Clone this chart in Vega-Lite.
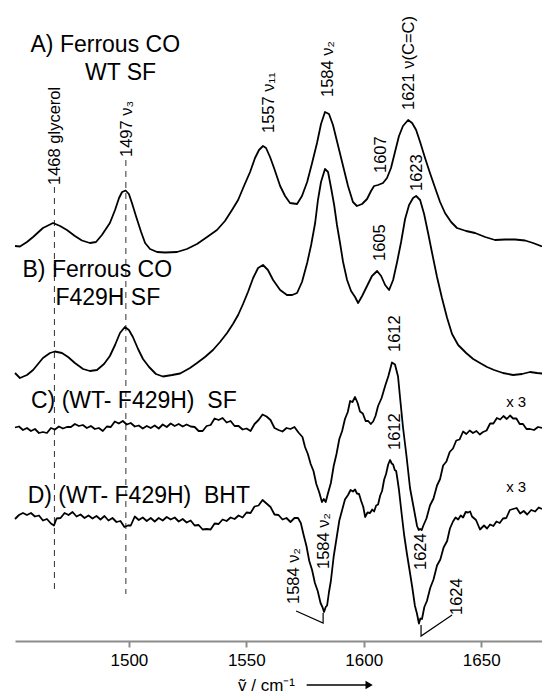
{
"$schema":"https://vega.github.io/schema/vega-lite/v6.json",
"width":527,"height":641,
"autosize":{"type":"none"},
"padding":{"left":15,"right":0,"top":0,"bottom":52},
"background":"white",
"config":{"view":{"stroke":null},"font":"Liberation Sans"},
"datasets":{
"guides":[{"w":1468.3,"v":454,"v2":51},{"w":1498.7,"v":481,"v2":47}],
"leaders":[{"g":"a","o":1,"w":1571.2,"v":30},{"g":"a","o":2,"w":1582.7,"v":18},{"g":"a","o":3,"w":1582.7,"v":28},{"g":"b","o":1,"w":1637.6,"v":26},{"g":"b","o":2,"w":1624.4,"v":5},{"g":"b","o":3,"w":1624.4,"v":16}],
"arrow":[{"w":1575.7,"w2":1601.5,"v":-44}],
"arrowhead":[{"w":1602.3,"v":-44}],
"peaks":[
{"label":"1468 glycerol","w":1468.7,"v":456},
{"label":"1497 ν₃","w":1499.0,"v":484},
{"label":"1557 ν₁₁","w":1559.5,"v":508},
{"label":"1584 ν₂","w":1584.6,"v":544},
{"label":"1607","w":1607.2,"v":468},
{"label":"1621 ν(C=C)","w":1619.3,"v":531},
{"label":"1623","w":1622.5,"v":450},
{"label":"1605","w":1607.1,"v":380},
{"label":"1612","w":1613.3,"v":289},
{"label":"1612","w":1613.1,"v":191},
{"label":"1584 ν₂","w":1582.9,"v":72},
{"label":"1584 ν₂","w":1570.3,"v":37},
{"label":"1624","w":1624.4,"v":71},
{"label":"1624","w":1639.9,"v":26}],
"titles":[
{"label":"A) Ferrous CO","w":1458.1,"v":589},
{"label":"WT SF","w":1481.3,"v":561},
{"label":"B) Ferrous CO","w":1454.7,"v":364},
{"label":"F429H SF","w":1468.7,"v":336},
{"label":"C) (WT- F429H)\u00a0 SF","w":1458.3,"v":233},
{"label":"D) (WT- F429H)\u00a0 BHT","w":1456.9,"v":138}],
"scales":[{"label":"x 3","w":1664.9,"v":239},{"label":"x 3","w":1664.9,"v":154}],
"spectra":[
{"trace":"A","w":1451.5,"v":395},{"trace":"A","w":1453.6,"v":394.5},{"trace":"A","w":1456.6,"v":399},{"trace":"A","w":1459.2,"v":404},{"trace":"A","w":1463.4,"v":413},{"trace":"A","w":1467.7,"v":418},{"trace":"A","w":1470.7,"v":415},{"trace":"A","w":1473.6,"v":411},{"trace":"A","w":1477.0,"v":405},{"trace":"A","w":1480.0,"v":400.5},{"trace":"A","w":1483.4,"v":398},{"trace":"A","w":1486.0,"v":399},{"trace":"A","w":1488.5,"v":406},{"trace":"A","w":1491.9,"v":418},{"trace":"A","w":1494.1,"v":431},{"trace":"A","w":1495.8,"v":443},{"trace":"A","w":1497.1,"v":449},{"trace":"A","w":1498.6,"v":450.5},{"trace":"A","w":1500.0,"v":447},{"trace":"A","w":1501.3,"v":438},{"trace":"A","w":1503.0,"v":425},{"trace":"A","w":1505.2,"v":409},{"trace":"A","w":1506.9,"v":398},{"trace":"A","w":1509.0,"v":392},{"trace":"A","w":1512.0,"v":389},{"trace":"A","w":1515.4,"v":388.5},{"trace":"A","w":1520.5,"v":389},{"trace":"A","w":1524.7,"v":392},{"trace":"A","w":1529.0,"v":397},{"trace":"A","w":1533.3,"v":404},{"trace":"A","w":1537.5,"v":411},{"trace":"A","w":1540.9,"v":420},{"trace":"A","w":1543.9,"v":431},{"trace":"A","w":1546.5,"v":441},{"trace":"A","w":1549.0,"v":455},{"trace":"A","w":1551.6,"v":469},{"trace":"A","w":1553.7,"v":483},{"trace":"A","w":1555.4,"v":491},{"trace":"A","w":1557.1,"v":495},{"trace":"A","w":1558.4,"v":493},{"trace":"A","w":1560.1,"v":484},{"trace":"A","w":1561.8,"v":473},{"trace":"A","w":1564.4,"v":455},{"trace":"A","w":1566.5,"v":445},{"trace":"A","w":1568.6,"v":438},{"trace":"A","w":1571.6,"v":437},{"trace":"A","w":1573.7,"v":445},{"trace":"A","w":1575.9,"v":459},{"trace":"A","w":1578.0,"v":478},{"trace":"A","w":1580.1,"v":498},{"trace":"A","w":1581.8,"v":517},{"trace":"A","w":1583.5,"v":529},{"trace":"A","w":1585.2,"v":527},{"trace":"A","w":1586.9,"v":516},{"trace":"A","w":1589.0,"v":496},{"trace":"A","w":1591.2,"v":475},{"trace":"A","w":1593.3,"v":455},{"trace":"A","w":1595.4,"v":439},{"trace":"A","w":1597.1,"v":435},{"trace":"A","w":1599.3,"v":437},{"trace":"A","w":1601.4,"v":442},{"trace":"A","w":1603.1,"v":450},{"trace":"A","w":1604.4,"v":455},{"trace":"A","w":1606.1,"v":456},{"trace":"A","w":1608.2,"v":458},{"trace":"A","w":1609.9,"v":463},{"trace":"A","w":1611.6,"v":473},{"trace":"A","w":1613.3,"v":489},{"trace":"A","w":1615.0,"v":505},{"trace":"A","w":1616.7,"v":515},{"trace":"A","w":1618.9,"v":521},{"trace":"A","w":1620.6,"v":518},{"trace":"A","w":1622.3,"v":511},{"trace":"A","w":1624.0,"v":499},{"trace":"A","w":1626.1,"v":483},{"trace":"A","w":1628.2,"v":468},{"trace":"A","w":1630.4,"v":453},{"trace":"A","w":1632.5,"v":439},{"trace":"A","w":1634.6,"v":428},{"trace":"A","w":1637.2,"v":419},{"trace":"A","w":1639.7,"v":413},{"trace":"A","w":1643.6,"v":410},{"trace":"A","w":1647.4,"v":408},{"trace":"A","w":1651.7,"v":404},{"trace":"A","w":1655.9,"v":401},{"trace":"A","w":1660.2,"v":401.5},{"trace":"A","w":1664.4,"v":401.5},{"trace":"A","w":1668.7,"v":400.5},{"trace":"A","w":1672.1,"v":398},{"trace":"A","w":1675.9,"v":394.5},
{"trace":"B","w":1451.5,"v":268},{"trace":"B","w":1453.6,"v":263},{"trace":"B","w":1456.6,"v":266},{"trace":"B","w":1459.2,"v":271},{"trace":"B","w":1463.4,"v":283},{"trace":"B","w":1466.4,"v":288},{"trace":"B","w":1468.5,"v":289.5},{"trace":"B","w":1471.5,"v":288},{"trace":"B","w":1474.1,"v":284},{"trace":"B","w":1477.0,"v":278},{"trace":"B","w":1480.5,"v":272},{"trace":"B","w":1483.4,"v":270},{"trace":"B","w":1486.4,"v":271},{"trace":"B","w":1489.4,"v":277},{"trace":"B","w":1491.9,"v":285},{"trace":"B","w":1494.1,"v":296},{"trace":"B","w":1496.2,"v":308},{"trace":"B","w":1498.3,"v":314},{"trace":"B","w":1500.0,"v":311},{"trace":"B","w":1501.7,"v":304},{"trace":"B","w":1503.9,"v":292},{"trace":"B","w":1506.0,"v":282},{"trace":"B","w":1508.6,"v":274},{"trace":"B","w":1511.5,"v":267},{"trace":"B","w":1514.5,"v":264.5},{"trace":"B","w":1518.4,"v":266},{"trace":"B","w":1521.8,"v":267.5},{"trace":"B","w":1526.0,"v":273},{"trace":"B","w":1529.0,"v":278},{"trace":"B","w":1532.4,"v":284},{"trace":"B","w":1535.8,"v":291},{"trace":"B","w":1538.8,"v":299},{"trace":"B","w":1541.8,"v":308},{"trace":"B","w":1544.3,"v":317},{"trace":"B","w":1546.5,"v":326},{"trace":"B","w":1548.6,"v":337},{"trace":"B","w":1550.7,"v":349},{"trace":"B","w":1552.9,"v":363},{"trace":"B","w":1555.0,"v":373},{"trace":"B","w":1557.1,"v":376},{"trace":"B","w":1559.2,"v":371},{"trace":"B","w":1561.4,"v":361},{"trace":"B","w":1564.4,"v":351},{"trace":"B","w":1567.3,"v":346},{"trace":"B","w":1569.5,"v":346},{"trace":"B","w":1571.6,"v":348},{"trace":"B","w":1573.7,"v":359},{"trace":"B","w":1575.9,"v":378},{"trace":"B","w":1577.6,"v":396},{"trace":"B","w":1579.3,"v":418},{"trace":"B","w":1580.5,"v":441},{"trace":"B","w":1581.8,"v":459},{"trace":"B","w":1583.5,"v":472},{"trace":"B","w":1584.8,"v":469},{"trace":"B","w":1586.1,"v":453},{"trace":"B","w":1587.4,"v":436},{"trace":"B","w":1588.6,"v":416},{"trace":"B","w":1589.9,"v":398},{"trace":"B","w":1591.2,"v":379},{"trace":"B","w":1592.9,"v":361},{"trace":"B","w":1594.6,"v":350},{"trace":"B","w":1596.3,"v":344},{"trace":"B","w":1597.6,"v":338},{"trace":"B","w":1599.3,"v":345},{"trace":"B","w":1601.4,"v":355},{"trace":"B","w":1603.5,"v":365},{"trace":"B","w":1605.7,"v":370},{"trace":"B","w":1607.4,"v":365},{"trace":"B","w":1609.1,"v":356},{"trace":"B","w":1610.8,"v":351},{"trace":"B","w":1612.5,"v":361},{"trace":"B","w":1614.2,"v":379},{"trace":"B","w":1615.9,"v":399},{"trace":"B","w":1617.6,"v":422},{"trace":"B","w":1619.3,"v":436},{"trace":"B","w":1621.0,"v":443},{"trace":"B","w":1622.3,"v":445},{"trace":"B","w":1624.0,"v":441},{"trace":"B","w":1625.7,"v":427},{"trace":"B","w":1627.4,"v":408},{"trace":"B","w":1629.1,"v":388},{"trace":"B","w":1631.2,"v":364},{"trace":"B","w":1633.3,"v":343},{"trace":"B","w":1635.5,"v":323},{"trace":"B","w":1637.6,"v":307},{"trace":"B","w":1640.2,"v":296},{"trace":"B","w":1643.6,"v":288},{"trace":"B","w":1646.6,"v":282},{"trace":"B","w":1649.5,"v":278},{"trace":"B","w":1652.5,"v":274},{"trace":"B","w":1655.5,"v":271},{"trace":"B","w":1659.3,"v":268},{"trace":"B","w":1663.6,"v":266},{"trace":"B","w":1667.4,"v":267},{"trace":"B","w":1670.8,"v":269},{"trace":"B","w":1673.8,"v":268},{"trace":"B","w":1675.9,"v":267.5},
{"trace":"C","w":1451.5,"v":213.5},{"trace":"C","w":1453.2,"v":214.5},{"trace":"C","w":1454.9,"v":211},{"trace":"C","w":1456.6,"v":213},{"trace":"C","w":1458.3,"v":210},{"trace":"C","w":1460.0,"v":212},{"trace":"C","w":1461.7,"v":208},{"trace":"C","w":1463.4,"v":209},{"trace":"C","w":1465.1,"v":208},{"trace":"C","w":1466.8,"v":213},{"trace":"C","w":1468.5,"v":211.5},{"trace":"C","w":1470.2,"v":214.5},{"trace":"C","w":1471.9,"v":212.5},{"trace":"C","w":1473.6,"v":214},{"trace":"C","w":1475.3,"v":214},{"trace":"C","w":1477.0,"v":217},{"trace":"C","w":1478.7,"v":215},{"trace":"C","w":1480.4,"v":216},{"trace":"C","w":1482.1,"v":213},{"trace":"C","w":1483.8,"v":215},{"trace":"C","w":1485.5,"v":212},{"trace":"C","w":1487.2,"v":213},{"trace":"C","w":1488.9,"v":210},{"trace":"C","w":1490.6,"v":214.5},{"trace":"C","w":1492.3,"v":214},{"trace":"C","w":1494.0,"v":219.5},{"trace":"C","w":1495.7,"v":217.5},{"trace":"C","w":1497.4,"v":220},{"trace":"C","w":1499.1,"v":216.5},{"trace":"C","w":1500.8,"v":218},{"trace":"C","w":1502.5,"v":214.5},{"trace":"C","w":1504.2,"v":215.5},{"trace":"C","w":1505.9,"v":212.5},{"trace":"C","w":1507.6,"v":215},{"trace":"C","w":1509.3,"v":213},{"trace":"C","w":1511.0,"v":215.5},{"trace":"C","w":1512.7,"v":212.5},{"trace":"C","w":1514.4,"v":216.5},{"trace":"C","w":1516.1,"v":214},{"trace":"C","w":1517.8,"v":217.5},{"trace":"C","w":1519.5,"v":215},{"trace":"C","w":1521.2,"v":217},{"trace":"C","w":1522.9,"v":214.5},{"trace":"C","w":1524.6,"v":216.5},{"trace":"C","w":1526.3,"v":214.5},{"trace":"C","w":1528.0,"v":214},{"trace":"C","w":1529.7,"v":210},{"trace":"C","w":1531.4,"v":210},{"trace":"C","w":1533.1,"v":215},{"trace":"C","w":1534.8,"v":216},{"trace":"C","w":1536.5,"v":222.5},{"trace":"C","w":1538.2,"v":221},{"trace":"C","w":1539.9,"v":223},{"trace":"C","w":1541.6,"v":218.5},{"trace":"C","w":1543.3,"v":220},{"trace":"C","w":1545.0,"v":215},{"trace":"C","w":1546.7,"v":215},{"trace":"C","w":1548.4,"v":211.5},{"trace":"C","w":1550.1,"v":212.5},{"trace":"C","w":1551.8,"v":210},{"trace":"C","w":1553.5,"v":217},{"trace":"C","w":1555.2,"v":221},{"trace":"C","w":1556.9,"v":226.5},{"trace":"C","w":1558.6,"v":224.5},{"trace":"C","w":1560.3,"v":221},{"trace":"C","w":1562.0,"v":213},{"trace":"C","w":1563.7,"v":211},{"trace":"C","w":1565.4,"v":209.5},{"trace":"C","w":1567.1,"v":213},{"trace":"C","w":1568.8,"v":212},{"trace":"C","w":1570.5,"v":214},{"trace":"C","w":1572.2,"v":208.5},{"trace":"C","w":1573.9,"v":204},{"trace":"C","w":1575.0,"v":194},{"trace":"C","w":1576.2,"v":187},{"trace":"C","w":1577.4,"v":177},{"trace":"C","w":1578.6,"v":170},{"trace":"C","w":1579.8,"v":157},{"trace":"C","w":1581.0,"v":149},{"trace":"C","w":1582.2,"v":139},{"trace":"C","w":1583.0,"v":142},{"trace":"C","w":1583.8,"v":139},{"trace":"C","w":1584.8,"v":148},{"trace":"C","w":1586.0,"v":158},{"trace":"C","w":1587.2,"v":175},{"trace":"C","w":1588.4,"v":187},{"trace":"C","w":1589.6,"v":202},{"trace":"C","w":1590.8,"v":210},{"trace":"C","w":1592.0,"v":222},{"trace":"C","w":1593.2,"v":229},{"trace":"C","w":1594.2,"v":240},{"trace":"C","w":1595.2,"v":239},{"trace":"C","w":1596.3,"v":244},{"trace":"C","w":1597.4,"v":238},{"trace":"C","w":1598.4,"v":229.5},{"trace":"C","w":1599.6,"v":227.5},{"trace":"C","w":1600.8,"v":220},{"trace":"C","w":1601.9,"v":220},{"trace":"C","w":1603.0,"v":217},{"trace":"C","w":1604.0,"v":219.5},{"trace":"C","w":1605.0,"v":225},{"trace":"C","w":1606.1,"v":235},{"trace":"C","w":1607.6,"v":243},{"trace":"C","w":1609.1,"v":255},{"trace":"C","w":1610.5,"v":265},{"trace":"C","w":1612.0,"v":278.5},{"trace":"C","w":1613.3,"v":276.5},{"trace":"C","w":1614.6,"v":264.5},{"trace":"C","w":1615.6,"v":240},{"trace":"C","w":1616.7,"v":214},{"trace":"C","w":1618.2,"v":185},{"trace":"C","w":1619.7,"v":153},{"trace":"C","w":1621.2,"v":134},{"trace":"C","w":1622.7,"v":115},{"trace":"C","w":1623.4,"v":111},{"trace":"C","w":1624.0,"v":112},{"trace":"C","w":1624.7,"v":111},{"trace":"C","w":1625.3,"v":115},{"trace":"C","w":1626.7,"v":122.5},{"trace":"C","w":1628.2,"v":135.5},{"trace":"C","w":1629.7,"v":142.5},{"trace":"C","w":1631.2,"v":155.5},{"trace":"C","w":1632.5,"v":162},{"trace":"C","w":1633.8,"v":175.5},{"trace":"C","w":1635.2,"v":179.5},{"trace":"C","w":1636.6,"v":189},{"trace":"C","w":1638.0,"v":192.5},{"trace":"C","w":1639.4,"v":200.5},{"trace":"C","w":1640.8,"v":201.5},{"trace":"C","w":1642.3,"v":209.5},{"trace":"C","w":1643.7,"v":207},{"trace":"C","w":1645.1,"v":210.5},{"trace":"C","w":1646.5,"v":208},{"trace":"C","w":1648.0,"v":210},{"trace":"C","w":1649.4,"v":206.5},{"trace":"C","w":1650.8,"v":209},{"trace":"C","w":1652.3,"v":210.5},{"trace":"C","w":1653.8,"v":217.5},{"trace":"C","w":1655.2,"v":217.5},{"trace":"C","w":1656.7,"v":223},{"trace":"C","w":1658.1,"v":221.5},{"trace":"C","w":1659.5,"v":225},{"trace":"C","w":1660.9,"v":222},{"trace":"C","w":1662.3,"v":225.5},{"trace":"C","w":1663.6,"v":222.5},{"trace":"C","w":1665.0,"v":222.5},{"trace":"C","w":1666.4,"v":217},{"trace":"C","w":1667.8,"v":217},{"trace":"C","w":1669.3,"v":212},{"trace":"C","w":1670.8,"v":212},{"trace":"C","w":1672.5,"v":211},{"trace":"C","w":1674.2,"v":214},{"trace":"C","w":1675.9,"v":213},
{"trace":"D","w":1451.5,"v":122},{"trace":"D","w":1453.2,"v":126},{"trace":"D","w":1454.9,"v":128},{"trace":"D","w":1456.6,"v":126},{"trace":"D","w":1458.3,"v":128},{"trace":"D","w":1460.0,"v":124.5},{"trace":"D","w":1461.7,"v":125.5},{"trace":"D","w":1463.4,"v":120.5},{"trace":"D","w":1465.1,"v":122},{"trace":"D","w":1466.8,"v":117.5},{"trace":"D","w":1468.1,"v":115.5},{"trace":"D","w":1469.2,"v":122.5},{"trace":"D","w":1470.9,"v":123},{"trace":"D","w":1472.6,"v":128},{"trace":"D","w":1474.3,"v":126},{"trace":"D","w":1476.0,"v":129},{"trace":"D","w":1477.7,"v":124.5},{"trace":"D","w":1479.4,"v":126.5},{"trace":"D","w":1481.1,"v":123},{"trace":"D","w":1482.8,"v":125.5},{"trace":"D","w":1484.5,"v":122.5},{"trace":"D","w":1486.2,"v":125},{"trace":"D","w":1487.9,"v":121.5},{"trace":"D","w":1489.6,"v":125},{"trace":"D","w":1491.3,"v":120.5},{"trace":"D","w":1493.0,"v":123},{"trace":"D","w":1494.7,"v":119},{"trace":"D","w":1496.4,"v":120},{"trace":"D","w":1498.1,"v":114},{"trace":"D","w":1499.6,"v":115.5},{"trace":"D","w":1500.8,"v":115.5},{"trace":"D","w":1502.5,"v":124.5},{"trace":"D","w":1504.2,"v":121},{"trace":"D","w":1505.9,"v":123.5},{"trace":"D","w":1507.6,"v":120},{"trace":"D","w":1509.3,"v":123},{"trace":"D","w":1511.0,"v":119.5},{"trace":"D","w":1512.7,"v":123},{"trace":"D","w":1514.4,"v":120.5},{"trace":"D","w":1516.1,"v":124},{"trace":"D","w":1517.8,"v":121.5},{"trace":"D","w":1519.5,"v":123.5},{"trace":"D","w":1521.2,"v":119.5},{"trace":"D","w":1522.9,"v":122},{"trace":"D","w":1524.6,"v":118.5},{"trace":"D","w":1526.3,"v":120.5},{"trace":"D","w":1528.0,"v":115.5},{"trace":"D","w":1529.7,"v":116},{"trace":"D","w":1531.4,"v":111.5},{"trace":"D","w":1533.1,"v":112},{"trace":"D","w":1534.8,"v":111.5},{"trace":"D","w":1536.5,"v":117.5},{"trace":"D","w":1538.2,"v":117},{"trace":"D","w":1539.9,"v":121.5},{"trace":"D","w":1541.6,"v":120},{"trace":"D","w":1543.3,"v":123.5},{"trace":"D","w":1545.0,"v":122},{"trace":"D","w":1546.7,"v":125.5},{"trace":"D","w":1548.4,"v":123.5},{"trace":"D","w":1550.1,"v":128.5},{"trace":"D","w":1551.8,"v":128},{"trace":"D","w":1553.5,"v":134.5},{"trace":"D","w":1555.2,"v":135.5},{"trace":"D","w":1556.9,"v":141},{"trace":"D","w":1558.6,"v":137.5},{"trace":"D","w":1560.3,"v":134},{"trace":"D","w":1562.0,"v":126.5},{"trace":"D","w":1563.7,"v":126},{"trace":"D","w":1565.4,"v":121.5},{"trace":"D","w":1567.1,"v":123},{"trace":"D","w":1568.8,"v":119},{"trace":"D","w":1570.5,"v":123},{"trace":"D","w":1572.0,"v":123},{"trace":"D","w":1573.2,"v":118},{"trace":"D","w":1574.4,"v":106},{"trace":"D","w":1575.6,"v":95},{"trace":"D","w":1576.8,"v":80},{"trace":"D","w":1578.0,"v":71},{"trace":"D","w":1579.2,"v":58},{"trace":"D","w":1580.4,"v":50},{"trace":"D","w":1581.6,"v":38},{"trace":"D","w":1582.4,"v":34},{"trace":"D","w":1583.1,"v":29},{"trace":"D","w":1583.8,"v":34},{"trace":"D","w":1584.4,"v":35.5},{"trace":"D","w":1585.2,"v":49},{"trace":"D","w":1586.0,"v":60},{"trace":"D","w":1587.2,"v":84.5},{"trace":"D","w":1588.4,"v":102.5},{"trace":"D","w":1589.6,"v":120.5},{"trace":"D","w":1590.8,"v":131},{"trace":"D","w":1592.0,"v":141.5},{"trace":"D","w":1593.3,"v":146},{"trace":"D","w":1594.4,"v":151},{"trace":"D","w":1595.4,"v":149.5},{"trace":"D","w":1596.3,"v":151.5},{"trace":"D","w":1597.1,"v":147.5},{"trace":"D","w":1598.0,"v":147},{"trace":"D","w":1598.9,"v":140},{"trace":"D","w":1599.8,"v":134},{"trace":"D","w":1600.6,"v":124},{"trace":"D","w":1601.6,"v":128.5},{"trace":"D","w":1602.7,"v":128},{"trace":"D","w":1603.6,"v":131.5},{"trace":"D","w":1604.4,"v":129.5},{"trace":"D","w":1605.3,"v":135.5},{"trace":"D","w":1606.1,"v":136.5},{"trace":"D","w":1607.0,"v":145.5},{"trace":"D","w":1607.8,"v":150},{"trace":"D","w":1608.7,"v":161.5},{"trace":"D","w":1609.5,"v":167},{"trace":"D","w":1610.4,"v":176.5},{"trace":"D","w":1611.2,"v":181},{"trace":"D","w":1611.9,"v":177.5},{"trace":"D","w":1612.5,"v":176.5},{"trace":"D","w":1613.2,"v":171},{"trace":"D","w":1613.8,"v":170},{"trace":"D","w":1614.4,"v":161},{"trace":"D","w":1615.0,"v":151},{"trace":"D","w":1616.1,"v":128},{"trace":"D","w":1617.2,"v":106},{"trace":"D","w":1618.4,"v":87},{"trace":"D","w":1619.7,"v":68},{"trace":"D","w":1620.7,"v":53},{"trace":"D","w":1621.8,"v":35},{"trace":"D","w":1622.6,"v":28},{"trace":"D","w":1623.5,"v":17.5},{"trace":"D","w":1624.1,"v":22.5},{"trace":"D","w":1624.8,"v":22},{"trace":"D","w":1625.8,"v":34},{"trace":"D","w":1626.9,"v":40},{"trace":"D","w":1628.3,"v":53},{"trace":"D","w":1629.7,"v":61.5},{"trace":"D","w":1631.2,"v":75.5},{"trace":"D","w":1632.6,"v":81.5},{"trace":"D","w":1634.0,"v":93.5},{"trace":"D","w":1635.5,"v":100},{"trace":"D","w":1636.7,"v":112.5},{"trace":"D","w":1638.0,"v":119.5},{"trace":"D","w":1639.1,"v":123.5},{"trace":"D","w":1640.2,"v":121.5},{"trace":"D","w":1641.3,"v":125.5},{"trace":"D","w":1642.3,"v":123.5},{"trace":"D","w":1643.4,"v":129},{"trace":"D","w":1644.4,"v":128.5},{"trace":"D","w":1645.3,"v":129.5},{"trace":"D","w":1646.1,"v":124.5},{"trace":"D","w":1647.8,"v":121},{"trace":"D","w":1649.5,"v":111.5},{"trace":"D","w":1651.2,"v":115.5},{"trace":"D","w":1652.5,"v":112.5},{"trace":"D","w":1653.8,"v":116.5},{"trace":"D","w":1655.2,"v":115},{"trace":"D","w":1656.5,"v":119.5},{"trace":"D","w":1657.9,"v":118},{"trace":"D","w":1659.3,"v":122.5},{"trace":"D","w":1660.7,"v":123},{"trace":"D","w":1662.2,"v":131},{"trace":"D","w":1663.6,"v":132},{"trace":"D","w":1665.1,"v":133},{"trace":"D","w":1666.6,"v":127.5},{"trace":"D","w":1668.1,"v":130},{"trace":"D","w":1669.6,"v":126.5},{"trace":"D","w":1671.3,"v":131},{"trace":"D","w":1673.0,"v":129.5},{"trace":"D","w":1674.5,"v":133.5},{"trace":"D","w":1675.9,"v":132}
]},
"encoding":{
"x":{"field":"w","type":"quantitative","scale":{"domain":[1451.5,1675.9],"nice":false,"zero":false},
"axis":{"values":[1500,1550,1600,1650],"format":"d","grid":false,"domainColor":"#8c8c8c","domainWidth":2,"tickColor":"#8c8c8c","tickWidth":2,"tickSize":6,"labelFont":"Liberation Sans","labelFontSize":17,"labelColor":"black","labelPadding":5,"title":"ṽ / cm⁻¹","titleFont":"Liberation Sans","titleFontSize":17,"titleFontWeight":"normal","titleColor":"black","titleX":251,"titleY":49,"titleAlign":"center","titleBaseline":"alphabetic"}},
"y":{"field":"v","type":"quantitative","scale":{"domain":[0,641],"nice":false,"zero":false},"axis":null}
},
"layer":[
{"data":{"name":"guides"},"mark":{"type":"rule","strokeDash":[6,5],"color":"#444","strokeWidth":1.1},"encoding":{"y2":{"field":"v2"}}},
{"data":{"name":"spectra"},"mark":{"type":"line","color":"black","strokeWidth":1.8,"strokeJoin":"round"},"encoding":{"detail":{"field":"trace"}}},
{"data":{"name":"leaders"},"mark":{"type":"line","color":"black","strokeWidth":1.2},"encoding":{"detail":{"field":"g"},"order":{"field":"o"}}},
{"data":{"name":"arrow"},"mark":{"type":"rule","color":"black","strokeWidth":1.6},"encoding":{"x2":{"field":"w2"}}},
{"data":{"name":"arrowhead"},"mark":{"type":"point","shape":"triangle-right","filled":true,"color":"black","size":70,"opacity":1},"encoding":{}},
{"data":{"name":"peaks"},"mark":{"type":"text","angle":270,"align":"left","baseline":"middle","fontSize":16.5,"font":"Liberation Sans","color":"black"},"encoding":{"text":{"field":"label"}}},
{"data":{"name":"titles"},"mark":{"type":"text","align":"left","baseline":"alphabetic","fontSize":23,"font":"Liberation Sans","color":"black"},"encoding":{"text":{"field":"label"}}},
{"data":{"name":"scales"},"mark":{"type":"text","align":"center","baseline":"middle","fontSize":15,"font":"Liberation Sans","color":"black"},"encoding":{"text":{"field":"label"}}}
]
}
